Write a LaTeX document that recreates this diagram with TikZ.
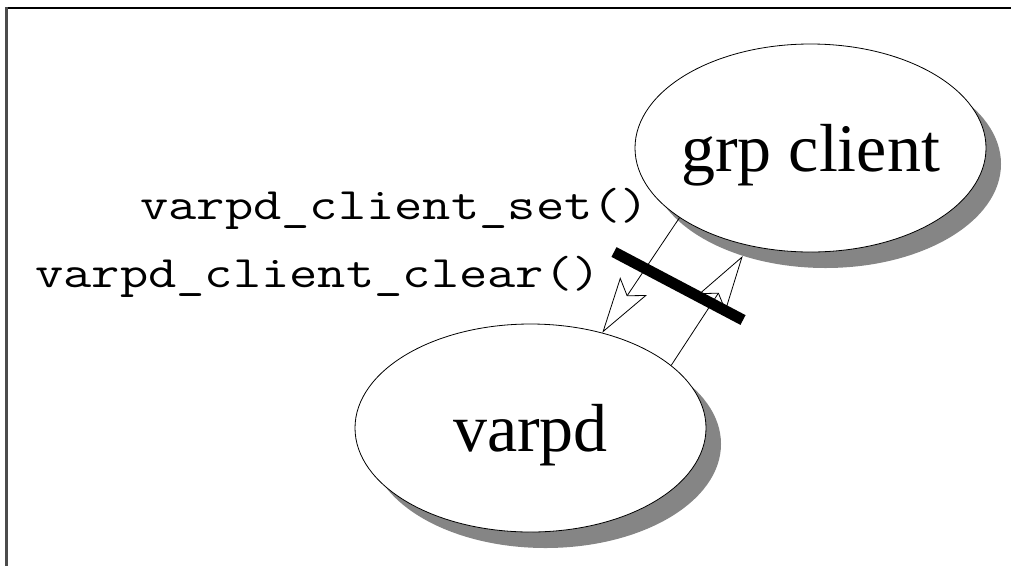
\documentclass[tikz,border=0pt]{standalone}
\usepackage{fontspec}
\setmainfont{Liberation Serif}
\usetikzlibrary{shapes.geometric,arrows.meta}
\newcommand{\codetext}[1]{\scalebox{1.22}[1]{\ttfamily\fontsize{45}{50}\selectfont #1}}
\begin{document}
\begin{tikzpicture}[x=1pt,y=-1pt,
  proc/.style={ellipse, draw=black, line width=0.8pt, fill=white,
    minimum width=351pt, minimum height=208pt, inner sep=0pt,
    text height=52pt, text depth=6pt, font=\fontsize{68}{72}\selectfont},
  procshadow/.style={ellipse, fill=black!48, minimum width=351pt,
    minimum height=208pt, inner sep=0pt},
  call/.style={draw=black, line width=0.8pt,
    -{Stealth[length=56pt,width=32pt,inset=11pt,fill=white]}},
  fn/.style={anchor=base west, inner sep=0pt},
  barrier/.style={line width=11pt, draw=black},
  frametop/.style={line width=2pt, draw=black},
  frameleft/.style={line width=3pt, draw=black!70}
]
\useasboundingbox (0,0) rectangle (1011,566);
% frame
\coordinate (ftl) at (5,8);
\coordinate (ftr) at (1011,8);
\coordinate (fl1) at (6.5,7);
\coordinate (fl2) at (6.5,566);
\draw[frametop] (ftl) -- (ftr);
\draw[frameleft] (fl1) -- (fl2);
% shadows
\node[procshadow] (grpsh) at (825.5,164) {};
\node[procshadow] (varpdsh) at (545.5,444) {};
% ellipses
\node[proc] (grp) at (810.5,148) {\makebox[0pt]{grp client}};
\node[proc] (varpd) at (530.5,428) {\makebox[0pt]{varpd}};
% labels
\node[fn] (lset) at (140,219) {\codetext{varpd\_client\_set()}};
\node[fn] (lclear) at (35,287) {\codetext{varpd\_client\_clear()}};
% calls
\draw[call] (grp.208) -- (varpd.53);
\draw[call] (varpd.24) -- (grpsh.228);
% barrier
\coordinate (barA) at (614,252);
\coordinate (barB) at (743,320);
\draw[barrier] (barA) -- (barB);
\end{tikzpicture}
\end{document}
